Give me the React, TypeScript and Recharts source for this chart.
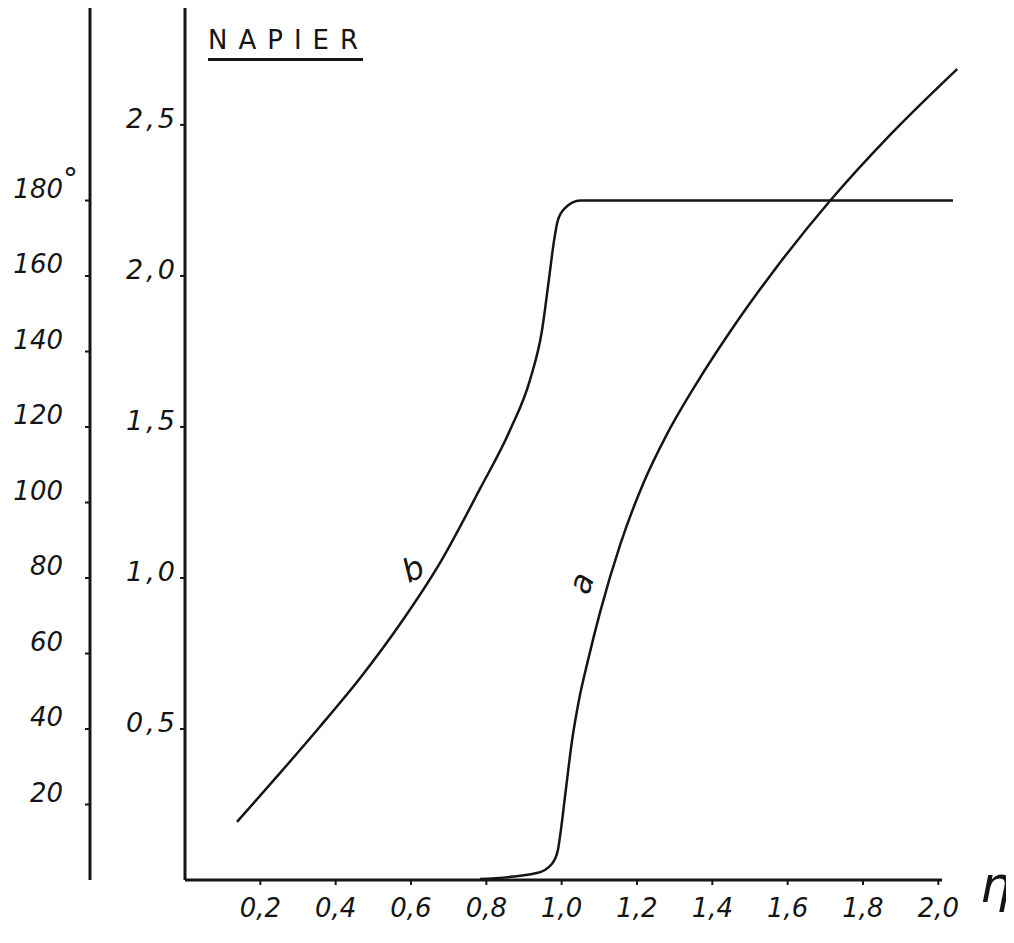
import React from "react";
import {
  ComposedChart,
  Line,
  XAxis,
  YAxis,
  ReferenceLine,
} from "recharts";

// curve b: phase in degrees vs eta, ends in the flat 180° line
const bEta = [0.138, 0.252, 0.358, 0.465, 0.571, 0.677, 0.783, 0.863, 0.916, 0.948, 0.966, 0.98, 0.99, 1.009, 1.049, 2.039];
const bDeg = [15.4, 28.3, 40.6, 53.5, 67.8, 84, 103.6, 119.2, 132.5, 145.7, 159, 169.5, 174.8, 178, 180, 180];

// curve a: amplitude vs eta
const aEta = [0.783, 0.934, 0.974, 0.99, 0.998, 1.011, 1.027, 1.046, 1.07, 1.102, 1.155, 1.216, 1.28, 1.359, 1.447, 1.553, 1.712, 1.872, 2.05];
const aVal = [0.003, 0.023, 0.053, 0.099, 0.166, 0.298, 0.457, 0.596, 0.728, 0.887, 1.109, 1.311, 1.477, 1.646, 1.815, 2.0, 2.248, 2.467, 2.685];

const etaTicks = [0.2, 0.4, 0.6, 0.8, 1.0, 1.2, 1.4, 1.6, 1.8, 2.0];
const valTicks = [0.5, 1.0, 1.5, 2.0, 2.5];
const degTicks = [20, 40, 60, 80, 100, 120, 140, 160, 180];

const curveB = bEta.map((x, i) => ({ x, y: bDeg[i] }));
const curveA = aEta.map((x, i) => ({ x, y: aVal[i] }));

const ink = "#151515";
const hand = "'DejaVu Sans', sans-serif";
const comma = (v: number) => v.toFixed(1).replace(".", ",");

const EtaTick = ({ x, y, payload }: any) => (
  <text x={x} y={y} dy={30} textAnchor="middle" fontFamily={hand} fontStyle="italic" fontSize={26} fill={ink}>
    {comma(payload.value)}
  </text>
);

const ValTick = ({ x, y, payload }: any) => (
  <text x={x - 2} y={y + 3} textAnchor="end" fontFamily={hand} fontStyle="italic" fontSize={27} letterSpacing={3} fill={ink}>
    {comma(payload.value)}
  </text>
);

// degree labels; the top one carries a raised degree sign
const DegTick = ({ x, y, payload }: any) => (
  <g>
    <text x={x - 20} y={y - 3} textAnchor="end" fontFamily={hand} fontStyle="italic" fontSize={26} fill={ink}>
      {payload.value}
    </text>
    {payload.value === 180 && (
      <text x={x - 20} y={y - 12} fontFamily={hand} fontSize={30} fill={ink}>
        °
      </text>
    )}
  </g>
);

export default function App() {
  return (
    <div style={{ position: "relative", width: 998, height: 927, background: "#fff" }}>
      <ComposedChart width={998} height={927} margin={{ top: 0, right: 30, bottom: 5, left: 0 }}>
        <XAxis
          dataKey="x"
          type="number"
          domain={[0, 2.1]}
          ticks={etaTicks}
          axisLine={false}
          tickSize={5}
          tickLine={{ stroke: ink, strokeWidth: 2 }}
          tick={<EtaTick />}
          height={50}
        />
        <YAxis
          yAxisId="amp"
          type="number"
          domain={[0, 2.887]}
          ticks={valTicks}
          width={95}
          tickSize={5}
          tickMargin={0}
          axisLine={{ stroke: ink, strokeWidth: 3 }}
          tickLine={{ stroke: ink, strokeWidth: 2 }}
          tick={<ValTick />}
        />
        <YAxis
          yAxisId="phase"
          type="number"
          domain={[0, 231]}
          ticks={degTicks}
          width={82}
          tickSize={5}
          axisLine={{ stroke: ink, strokeWidth: 3 }}
          tickLine={{ stroke: ink, strokeWidth: 2 }}
          tick={<DegTick />}
        />
        <ReferenceLine
          yAxisId="amp"
          segment={[{ x: 0, y: 0 }, { x: 2.01, y: 0 }]}
          stroke={ink}
          strokeWidth={3}
        />
        <Line
          yAxisId="phase"
          data={curveB}
          dataKey="y"
          type="monotone"
          stroke={ink}
          strokeWidth={2.5}
          dot={false}
          isAnimationActive={false}
        />
        <Line
          yAxisId="amp"
          data={curveA}
          dataKey="y"
          type="monotone"
          stroke={ink}
          strokeWidth={2.5}
          dot={false}
          isAnimationActive={false}
        />
      </ComposedChart>

      <div
        style={{
          position: "absolute",
          left: 200,
          top: 19,
          fontFamily: hand,
          fontSize: 26,
          lineHeight: "27px",
          letterSpacing: 11,
          color: ink,
        }}
      >
        NAPIER
      </div>
      <div style={{ position: "absolute", left: 200, top: 50, width: 155, height: 3, background: ink }} />

      <div
        style={{
          position: "absolute",
          left: 972,
          top: 852,
          fontFamily: hand,
          fontStyle: "italic",
          fontSize: 50,
          lineHeight: "50px",
          color: ink,
        }}
      >
        η
      </div>

      <div
        style={{
          position: "absolute",
          left: 405,
          top: 561,
          transform: "translate(-50%, -50%) rotate(-25deg)",
          fontFamily: hand,
          fontStyle: "italic",
          fontSize: 32,
          color: ink,
        }}
      >
        b
      </div>
      <div
        style={{
          position: "absolute",
          left: 573,
          top: 575,
          transform: "translate(-50%, -50%) rotate(-70deg)",
          fontFamily: hand,
          fontStyle: "italic",
          fontSize: 32,
          color: ink,
        }}
      >
        a
      </div>
    </div>
  );
}
